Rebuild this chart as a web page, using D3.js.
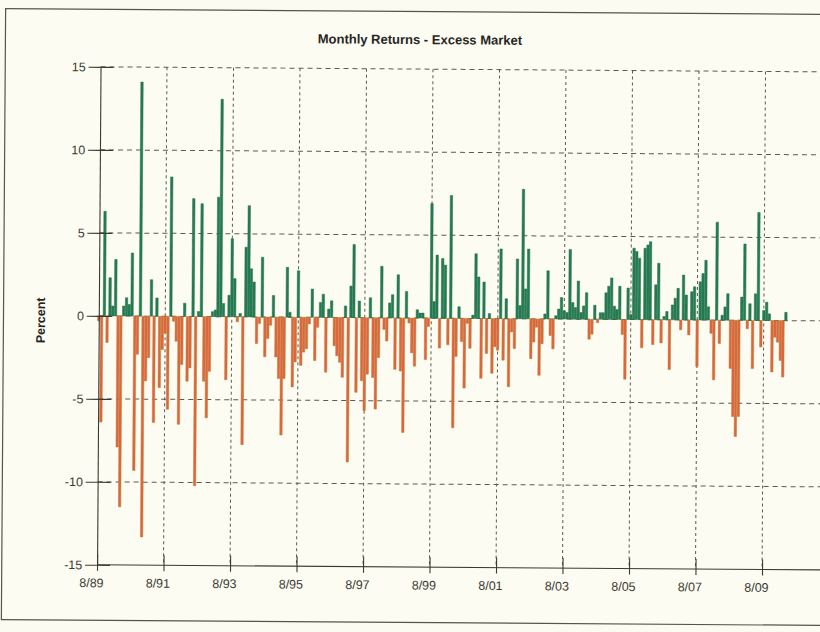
<!DOCTYPE html>
<html>
<head>
<meta charset="utf-8">
<title>Monthly Returns - Excess Market</title>
<script src="https://cdn.jsdelivr.net/npm/d3@7"></script>
<style>
  html, body { margin: 0; padding: 0; background: #fcfbf2; }
  svg { display: block; }
  text { font-family: "Liberation Sans", Arial, sans-serif; }
</style>
</head>
<body>
<svg id="chart" width="820" height="632"></svg>
<script>
// Monthly excess market returns (%), one value per month starting 8/89
const firstMonth = new Date(1989, 7, 1);
const monthlyExcessReturns = [
  -0.3, -6.4, 6.3, -1.6, 2.3, 0.6, 3.4, -7.9, -11.5, 0.6, 1.1, 0.7,
  3.8, -9.3, -2.3, 14.1, -13.3, -3.9, -2.5, 2.2, -6.4, 1.1, -4.3, -2.0,
  -1.0, -5.6, 8.4, -0.3, -1.5, -6.5, -2.9, 0.8, -3.9, -3.1, 7.1, -10.2,
  0.3, 6.8, -3.9, -6.1, -3.3, 0.3, 0.4, 7.2, 13.1, 0.8, -3.8, 1.3,
  4.7, 2.3, -0.3, 0.2, -7.7, 4.2, 6.7, 2.9, 2.1, -1.6, -0.4, 3.6,
  -2.4, -1.3, -0.5, 1.3, -2.4, -3.7, -7.1, -3.7, 3.0, 0.3, -4.2, -2.7,
  2.8, -2.9, -2.1, -1.9, -0.4, 1.7, -2.6, -0.6, 0.9, 1.4, -3.3, 0.5,
  1.0, -1.7, -2.3, -2.7, -3.6, 0.7, -8.7, 1.9, 4.4, -4.5, 1.0, -3.8,
  -5.6, -3.4, 1.2, -3.6, -5.5, -2.4, 3.1, -0.7, -1.4, 0.9, 1.4, -3.1,
  2.6, -3.2, -6.9, 1.6, -0.3, -2.1, -2.9, 0.5, 0.3, 0.3, -2.5, -0.5,
  6.9, 1.0, 3.8, -1.8, 3.6, 3.2, -1.6, 7.4, -6.6, -2.3, 0.7, -1.4,
  -4.2, -0.3, -1.8, 0.2, 3.9, 2.5, -3.6, 2.2, -2.1, 0.3, -3.3, -1.7,
  -1.9, 4.2, -2.5, 1.2, -4.1, -0.8, -1.8, 3.6, 0.8, 7.8, 1.8, 4.2,
  -2.4, -1.4, -0.5, -3.4, -1.5, 0.3, 2.9, -1.0, -1.8, 0.2, 0.6, 1.3,
  0.5, 0.4, 4.2, 1.0, 0.7, 2.3, 0.4, 0.8, 1.6, -1.2, -0.9, 0.85,
  -0.2, 0.4, 0.4, 1.6, 2.0, 2.5, 0.8, 0.6, 2.0, -0.9, -3.6, 1.9,
  0.3, 4.3, 4.1, 3.7, -1.7, 4.3, 4.5, 4.7, -1.5, 2.1, 3.4, -1.4,
  0.2, 0.5, -3.0, 0.9, 1.3, 1.9, -0.6, 2.7, 1.5, -0.9, 1.7, 2.0,
  -2.8, 2.3, 2.8, 3.6, 0.8, -0.8, -3.6, 5.9, -1.4, 0.3, 0.8, 1.6,
  -2.9, -5.8, -7.0, -5.8, 1.4, 4.6, -0.5, 1.0, -2.9, 1.6, 6.5, -1.6,
  0.6, 1.1, 0.4, -3.1, -1.0, -1.3, -2.4, -3.4, 0.5
];
const yTickValues = [15, 10, 5, 0, -5, -10, -15];
const xTickLabels = ["8/89", "8/91", "8/93", "8/95", "8/97", "8/99", "8/01", "8/03", "8/05", "8/07", "8/09"];

const titleText = "Monthly Returns - Excess Market";
const yAxisTitle = "Percent";

// month records built from the values above
const parseTick = d3.timeParse("%m/%y");
const xTickDates = xTickLabels.map(parseTick);
const months = monthlyExcessReturns.map((v, i) => ({ date: d3.timeMonth.offset(firstMonth, i), value: v }));

const svg = d3.select("#chart");
const inkColor = "#3a3a32";
const gridColor = "#5a5a4e";

// the printed page sits a touch askew
const page = svg.append("g").attr("transform", "rotate(0.4, 410, 316)");

// page frame
page.append("rect")
  .attr("x", 3.5).attr("y", 11.5)
  .attr("width", 900).attr("height", 611)
  .attr("fill", "#fdfcf3")
  .attr("stroke", "#55554c").attr("stroke-width", 1.2);

const x = d3.scaleTime()
  .domain([xTickDates[0], xTickDates[xTickDates.length - 1]])
  .range([98.8, 763.8]);
const y = d3.scaleLinear().domain([-15, 15]).range([567, 69]);
const plotRight = 880;
const barWidth = 2.4;

// horizontal grid
page.append("g").selectAll("line")
  .data(yTickValues.filter(v => v !== -15))
  .join("line")
  .attr("x1", x.range()[0]).attr("x2", plotRight)
  .attr("y1", d => y(d)).attr("y2", d => y(d))
  .attr("stroke", gridColor).attr("stroke-width", 1)
  .attr("stroke-dasharray", "5,4");

// vertical grid
page.append("g").selectAll("line")
  .data(xTickDates.slice(1))
  .join("line")
  .attr("x1", d => x(d)).attr("x2", d => x(d))
  .attr("y1", y(15)).attr("y2", y(-15))
  .attr("stroke", gridColor).attr("stroke-width", 1)
  .attr("stroke-dasharray", "3,3");

// bars
page.append("g").selectAll("rect")
  .data(months)
  .join("rect")
  .attr("x", d => x(d.date) - barWidth / 2)
  .attr("width", barWidth)
  .attr("y", d => y(Math.max(0, d.value)))
  .attr("height", d => Math.abs(y(d.value) - y(0)))
  .attr("fill", d => d.value >= 0 ? "#1f7d58" : "#e4623f")
  .attr("stroke", d => d.value >= 0 ? "#2f6e3e" : "#b5802f")
  .attr("stroke-width", 0.5);

// left axis
const yAxis = d3.axisLeft(y)
  .tickValues(yTickValues)
  .tickFormat(d => String(d))
  .tickSize(12)
  .tickSizeOuter(0)
  .tickPadding(1.5);
const yAxisG = page.append("g")
  .attr("transform", `translate(${x.range()[0]},0)`)
  .call(yAxis);
yAxisG.selectAll("text").attr("font-size", 12.5).attr("fill", inkColor).attr("dx", "-0.1em");
yAxisG.selectAll("line, path").attr("stroke", inkColor).attr("stroke-width", 1.1);
// inner halves of the y ticks
yAxisG.selectAll(".tick").append("line")
  .attr("x1", 0).attr("x2", 13)
  .attr("stroke", inkColor).attr("stroke-width", 1.1);

// bottom axis
const xAxis = d3.axisBottom(x)
  .tickValues(xTickDates)
  .tickFormat((d, i) => xTickLabels[i])
  .tickSize(6)
  .tickSizeOuter(0)
  .tickPadding(7.5);
const xAxisG = page.append("g")
  .attr("transform", `translate(0,${y(-15)})`)
  .call(xAxis);
xAxisG.select(".domain").attr("d", `M${x.range()[0]},0H${plotRight}`);
xAxisG.selectAll("text").attr("font-size", 12.5).attr("fill", inkColor).attr("dx", -6);
xAxisG.selectAll("line, path").attr("stroke", inkColor).attr("stroke-width", 1.1);
xAxisG.selectAll(".tick").append("line")
  .attr("y1", 0).attr("y2", -10)
  .attr("stroke", inkColor).attr("stroke-width", 1.1);

// titles
page.append("text")
  .attr("x", 418).attr("y", 44)
  .attr("text-anchor", "middle")
  .attr("font-size", 13).attr("font-weight", "bold")
  .attr("fill", "#26261f")
  .text(titleText);

page.append("text")
  .attr("transform", "translate(45,323) rotate(-90)")
  .attr("text-anchor", "middle")
  .attr("font-size", 12.5).attr("font-weight", "bold")
  .attr("fill", "#26261f")
  .text(yAxisTitle);
</script>
</body>
</html>
